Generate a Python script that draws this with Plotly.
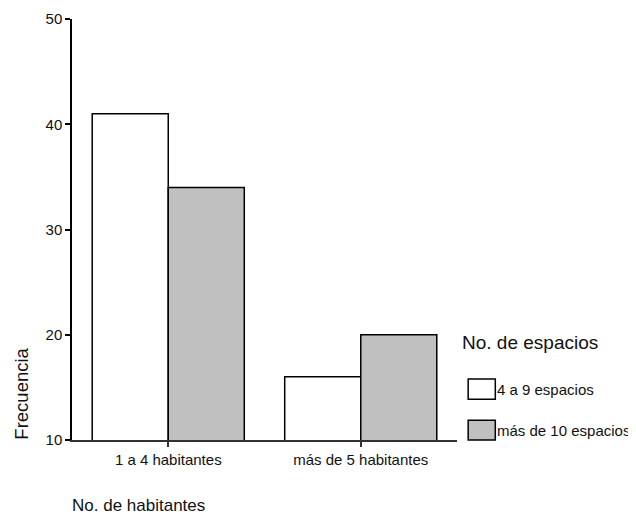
import plotly.graph_objects as go

categories = ["1 a 4 habitantes", "más de 5 habitantes"]
series_names = ["4 a 9 espacios", "más de 10 espacios"]
values_4a9 = [41, 16]
values_mas10 = [34, 20]
y_ticks = [10, 20, 30, 40, 50]

FONT = "Liberation Sans, Arial, sans-serif"
fills = ["#ffffff", "#c0c0c0"]

fig = go.Figure()
for name, vals, col in zip(series_names, [values_4a9, values_mas10], fills):
    fig.add_trace(go.Bar(
        x=categories, y=vals, name=name,
        marker=dict(color=col, line=dict(color="#000000", width=1.5)),
        showlegend=False,
    ))

# page body has an 8px margin, so the figure is sized to fill the rest
fig.update_layout(
    width=628, height=506,
    margin=dict(l=64, r=179, t=11, b=74),
    paper_bgcolor="white", plot_bgcolor="white",
    barmode="group", bargap=0.21, bargroupgap=0,
    font=dict(family=FONT, size=15, color="#000000"),
)
fig.update_xaxes(
    type="category", range=[-0.5, 1.5],
    showline=True, linecolor="#333333", linewidth=1.5,
    ticks="outside", ticklen=5, tickcolor="#333333", tickwidth=1.5,
    showgrid=False, zeroline=False, automargin=False,
    tickfont=dict(size=15, family=FONT, color="#111111"),
)
fig.update_yaxes(
    range=[10, 50], tickvals=y_ticks,
    showline=True, linecolor="#000000", linewidth=1.5,
    ticks="outside", ticklen=5, tickcolor="#000000", tickwidth=1.5,
    showgrid=False, zeroline=False, automargin=False,
    tickfont=dict(size=15, family=FONT, color="#111111"),
)

# axis titles
fig.add_annotation(text="Frecuencia", xref="paper", yref="paper",
                   x=-0.13, y=0.11, xanchor="center", yanchor="middle",
                   textangle=-90, showarrow=False,
                   font=dict(size=18.5, family=FONT, color="#111111"))
fig.add_annotation(text="No. de habitantes", xref="paper", yref="paper",
                   x=-0.005, y=-0.155, xanchor="left", yanchor="middle",
                   showarrow=False,
                   font=dict(size=17, family=FONT, color="#111111"))

# manual legend
fig.add_annotation(text="No. de espacios", xref="paper", yref="paper",
                   x=1.008, y=0.232, xanchor="left", yanchor="middle",
                   showarrow=False,
                   font=dict(size=19, family=FONT, color="#111111"))
legend_rows = [(0.097, 0.145), (0.0, 0.047)]
for (y0, y1), name, col in zip(legend_rows, series_names, fills):
    fig.add_shape(type="rect", xref="paper", yref="paper",
                  x0=1.029, x1=1.0995, y0=y0, y1=y1,
                  fillcolor=col, line=dict(color="#000000", width=1.5))
    fig.add_annotation(text=name, xref="paper", yref="paper",
                       x=1.099, y=(y0 + y1) / 2, xanchor="left", yanchor="middle",
                       showarrow=False,
                       font=dict(size=15, family=FONT, color="#111111"))

fig.write_html("out.html")
